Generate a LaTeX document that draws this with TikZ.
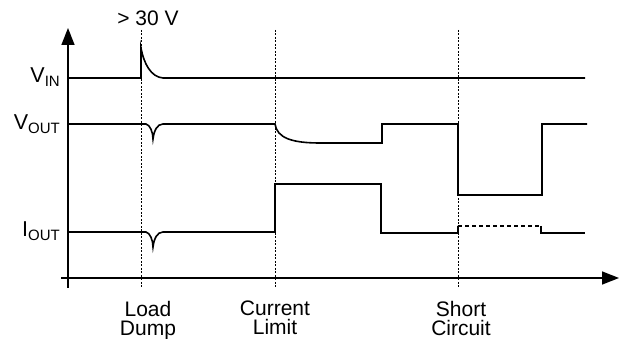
\documentclass[tikz,border=0pt]{standalone}
\usepackage{fontspec}
\setmainfont{Liberation Sans}
\usetikzlibrary{arrows.meta}
\newcommand{\sig}[2]{{\fontsize{21.5}{21.5}\selectfont #1}\raisebox{-3.5pt}{\fontsize{15}{15}\selectfont #2}}

\begin{document}
\begin{tikzpicture}[x=1pt,y=-1pt,
    font=\fontsize{21}{19}\selectfont,
    wave/.style={line width=1.6pt},
    marker/.style={line width=0.8pt, dash pattern=on 2pt off 1.5pt},
    axis/.style={line width=1.6pt, -{Triangle[length=17pt,width=13pt]}}]
    \useasboundingbox (0,0) rectangle (619,339);
    % ---- event markers ----
    \foreach \x in {141,275,458} {
        \draw[marker] (\x,30) -- (\x,288);
    }
    % ---- axes ----
    \draw[axis] (68,288) -- (68,28);
    \draw[axis] (61,278) -- (619,278);
    % ---- V_IN ----
    \node[anchor=base east, inner sep=0] (vin) at (60,83) {\sig{V}{IN}};
    \draw[wave] (68,78) -- (141,78) -- (141,48)
        .. controls (144,64) and (151,77) .. (163,78) -- (585,78);
    % ---- V_OUT ----
    \node[anchor=base east, inner sep=0] (vout) at (60,130) {\sig{V}{OUT}};
    \draw[wave] (68,124) -- (146,124)
        .. controls (150,125) and (153,132) .. (153,139)
        .. controls (154,131) and (157,124) .. (163,124) -- (275,124)
        .. controls (277,138) and (292,143) .. (320,143) -- (382,143)
        -- (382,124) -- (458,124) -- (458,195) -- (542,195)
        -- (542,124) -- (587,124);
    % ---- I_OUT ----
    \node[anchor=base east, inner sep=0] (iout) at (60,237) {\sig{I}{OUT}};
    \draw[wave] (68,232) -- (146,232)
        .. controls (150,233) and (153,240) .. (153,247)
        .. controls (154,239) and (157,232) .. (163,232) -- (275,232)
        -- (275,184) -- (381,184) -- (381,233) -- (458,233) -- (458,226);
    \draw[wave, line width=1.3pt, dash pattern=on 4pt off 3pt] (458,226) -- (541,226);
    \draw[wave] (541,226) -- (541,233) -- (585,233);
    % ---- labels ----
    \node[anchor=base] (vmax) at (148,26) {> 30 V};
    \node[anchor=north, align=center, inner sep=0] (dump) at (148,301) {Load\\Dump};
    \node[anchor=north, align=center, inner sep=0] (limit) at (275,301) {Current\\Limit};
    \node[anchor=north, align=center, inner sep=0] (short) at (461,301) {Short\\Circuit};
\end{tikzpicture}
\end{document}
